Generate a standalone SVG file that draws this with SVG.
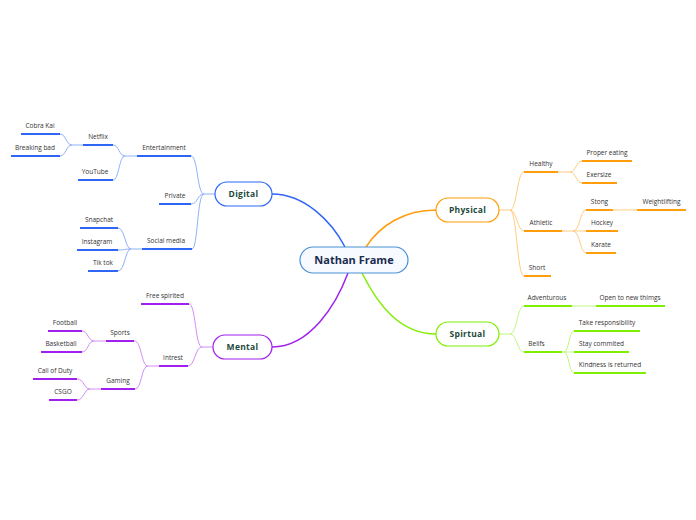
<svg xmlns="http://www.w3.org/2000/svg" width="696" height="520" viewBox="0 0 696 520">
<style>
.t{font-family:"Open Sans","Noto Sans",sans-serif;font-size:6.5px;fill:#333;text-anchor:middle}
.n{font-family:"Open Sans","Noto Sans",sans-serif;font-size:8.5px;font-weight:bold;fill:#1d4a3a;text-anchor:middle;letter-spacing:0.3px}
.c{fill:none;stroke-width:1}
.b .u{stroke:#2f66f5}.b .c{stroke:#8fb0fa}
.o .u{stroke:#ff9d0a}.o .c{stroke:#ffcc80}
.g .u{stroke:#7fef00}.g .c{stroke:#bff780}
.p .u{stroke:#a020f0}.p .c{stroke:#d08ff8}
.u{stroke-width:2;fill:none}
.m{fill:none;stroke-width:1.5}
</style>
<rect width="696" height="520" fill="#fff"/>
<g id="connectors">
<path class="m" stroke="#2f66f5" d="M272,194 C305,194 332,222 345,247"/>
<path class="m" stroke="#a020f0" d="M272,347 C310,347 336,305 348,273"/>
<path class="m" stroke="#ff9d0a" d="M366,247 C380,225 405,210 436,210"/>
<path class="m" stroke="#7fef00" d="M362,273 C378,305 400,334 436,334"/>
<g class="b">
<path class="c" d="M215,194 L204,194"/>
<path class="c" d="M204,194 C197,194 198,156 191,156"/>
<path class="c" d="M204,194 C197,194 198,204 191,204"/>
<path class="c" d="M204,194 C197,194 198,249 192,249"/>
<path class="c" d="M137,156 L125,156 C119,156 119,145 113,145"/>
<path class="c" d="M125,156 C119,156 119,180 113,180"/>
<path class="c" d="M83,145 L72,145 C66,145 66,134 60,134"/>
<path class="c" d="M72,145 C66,145 66,156 60,156"/>
<path class="c" d="M142,249 L131,249 C125,249 125,228 118,228"/>
<path class="c" d="M131,249 C125,249 125,250 118,250"/>
<path class="c" d="M131,249 C125,249 125,271 118,271"/>
</g>
<g class="p">
<path class="c" d="M213,347 L202,347"/>
<path class="c" d="M202,347 C195,347 196,304 189,304"/>
<path class="c" d="M202,347 C195,347 195,366 188,366"/>
<path class="c" d="M159,366 L148,366 C141,366 142,341 134,341"/>
<path class="c" d="M148,366 C141,366 142,389 135,389"/>
<path class="c" d="M106,341 L94,341 C88,341 88,331 82,331"/>
<path class="c" d="M94,341 C88,341 88,352 82,352"/>
<path class="c" d="M101,389 L90,389 C84,389 84,379 77,379"/>
<path class="c" d="M90,389 C84,389 84,400 77,400"/>
</g>
<g class="o">
<path class="c" d="M499,210 L510,210"/>
<path class="c" d="M510,210 C517,210 517,172 524,172"/>
<path class="c" d="M510,210 C517,210 517,231 524,231"/>
<path class="c" d="M510,210 C517,210 517,276 524,276"/>
<path class="c" d="M558,172 L570,172 C576,172 576,161 582,161"/>
<path class="c" d="M570,172 C576,172 576,183 582,183"/>
<path class="c" d="M562,231 L573,231 C580,231 580,210 586,210"/>
<path class="c" d="M573,231 C580,231 580,231 586,231"/>
<path class="c" d="M573,231 C580,231 580,253 586,253"/>
<path class="c" d="M613,210 L637,210"/>
</g>
<g class="g">
<path class="c" d="M499,334 L510,334"/>
<path class="c" d="M510,334 C517,334 517,306 524,306"/>
<path class="c" d="M510,334 C517,334 517,352 524,352"/>
<path class="c" d="M572,306 L596,306"/>
<path class="c" d="M562,352 L564,352 C569,352 569,331 574,331"/>
<path class="c" d="M564,352 L574,352"/>
<path class="c" d="M564,352 C569,352 569,373 574,373"/>
</g>
</g>
<g id="center">
<rect x="300" y="247" width="108" height="26" rx="13" fill="#f7fbff" stroke="#4a8fd6" stroke-width="1.2"/>
<text x="354" y="264" font-family="Open Sans,Noto Sans,sans-serif" font-size="11" font-weight="bold" fill="#1b2b4f" text-anchor="middle">Nathan Frame</text>
</g>
<g id="digital">
<rect x="215" y="182" width="57" height="24" rx="12" fill="#fff" stroke="#2f66f5" stroke-width="1.2"/>
<text class="n" x="243.5" y="197">Digital</text>
</g>
<g id="mental">
<rect x="213" y="335" width="59" height="24" rx="12" fill="#fff" stroke="#a020f0" stroke-width="1.2"/>
<text class="n" x="242.5" y="350">Mental</text>
</g>
<g id="physical">
<rect x="436" y="198" width="63" height="24" rx="12" fill="#fff" stroke="#ff9d0a" stroke-width="1.2"/>
<text class="n" x="467.5" y="213">Physical</text>
</g>
<g id="spirtual">
<rect x="436" y="322" width="63" height="24" rx="12" fill="#fff" stroke="#7fef00" stroke-width="1.2"/>
<text class="n" x="467.5" y="337">Spirtual</text>
</g>
<g class="b">
<g id="entertainment"><path class="u" d="M137,156 H191"/><text class="t" x="164" y="150">Entertainment</text></g>
<g id="private"><path class="u" d="M159,204 H191"/><text class="t" x="175" y="198">Private</text></g>
<g id="social-media"><path class="u" d="M142,249 H192"/><text class="t" x="166" y="243">Social media</text></g>
<g id="netflix"><path class="u" d="M83,145 H113"/><text class="t" x="98" y="139">Netflix</text></g>
<g id="youtube"><path class="u" d="M78,180 H113"/><text class="t" x="95" y="174">YouTube</text></g>
<g id="cobra-kai"><path class="u" d="M21,134 H60"/><text class="t" x="40" y="128">Cobra Kai</text></g>
<g id="breaking-bad"><path class="u" d="M11,156 H60"/><text class="t" x="35" y="150">Breaking bad</text></g>
<g id="snapchat"><path class="u" d="M80,228 H118"/><text class="t" x="99" y="222">Snapchat</text></g>
<g id="instagram"><path class="u" d="M77,250 H118"/><text class="t" x="97" y="244">Instagram</text></g>
<g id="tiktok"><path class="u" d="M88,271 H118"/><text class="t" x="103" y="265">Tik tok</text></g>
</g>
<g class="p">
<g id="free-spirited"><path class="u" d="M141,304 H189"/><text class="t" x="165" y="298">Free spirited</text></g>
<g id="intrest"><path class="u" d="M159,366 H188"/><text class="t" x="173" y="360">Intrest</text></g>
<g id="sports"><path class="u" d="M106,341 H134"/><text class="t" x="120" y="335">Sports</text></g>
<g id="gaming"><path class="u" d="M101,389 H135"/><text class="t" x="118" y="383">Gaming</text></g>
<g id="football"><path class="u" d="M48,331 H82"/><text class="t" x="65" y="325">Football</text></g>
<g id="basketball"><path class="u" d="M41,352 H82"/><text class="t" x="61" y="346">Basketball</text></g>
<g id="call-of-duty"><path class="u" d="M33,379 H77"/><text class="t" x="55" y="373">Call of Duty</text></g>
<g id="csgo"><path class="u" d="M49,400 H77"/><text class="t" x="63" y="394">CSGO</text></g>
</g>
<g class="o">
<g id="healthy"><path class="u" d="M524,172 H558"/><text class="t" x="541" y="166">Healthy</text></g>
<g id="athletic"><path class="u" d="M524,231 H562"/><text class="t" x="541" y="225">Athletic</text></g>
<g id="short"><path class="u" d="M524,276 H551"/><text class="t" x="537" y="270">Short</text></g>
<g id="proper-eating"><path class="u" d="M582,161 H632"/><text class="t" x="607" y="155">Proper eating</text></g>
<g id="exersize"><path class="u" d="M582,183 H617"/><text class="t" x="599" y="177">Exersize</text></g>
<g id="stong"><path class="u" d="M586,210 H613"/><text class="t" x="599.5" y="204">Stong</text></g>
<g id="hockey"><path class="u" d="M586,231 H618"/><text class="t" x="602" y="225">Hockey</text></g>
<g id="karate"><path class="u" d="M586,253 H616"/><text class="t" x="601" y="247">Karate</text></g>
<g id="weightlifting"><path class="u" d="M637,210 H686"/><text class="t" x="661.5" y="204">Weightlifting</text></g>
</g>
<g class="g">
<g id="adventurous"><path class="u" d="M524,306 H572"/><text class="t" x="547" y="300">Adventurous</text></g>
<g id="open-to-new-things"><path class="u" d="M596,306 H665"/><text class="t" x="630" y="300">Open to new thimgs</text></g>
<g id="belifs"><path class="u" d="M524,352 H562"/><text class="t" x="536.5" y="346">Belifs</text></g>
<g id="take-responsibility"><path class="u" d="M574,331 H640"/><text class="t" x="607" y="325">Take responsibility</text></g>
<g id="stay-commited"><path class="u" d="M574,352 H629"/><text class="t" x="601.5" y="346">Stay commited</text></g>
<g id="kindness"><path class="u" d="M574,373 H646"/><text class="t" x="610" y="367">Kindness is returned</text></g>
</g>
</svg>
